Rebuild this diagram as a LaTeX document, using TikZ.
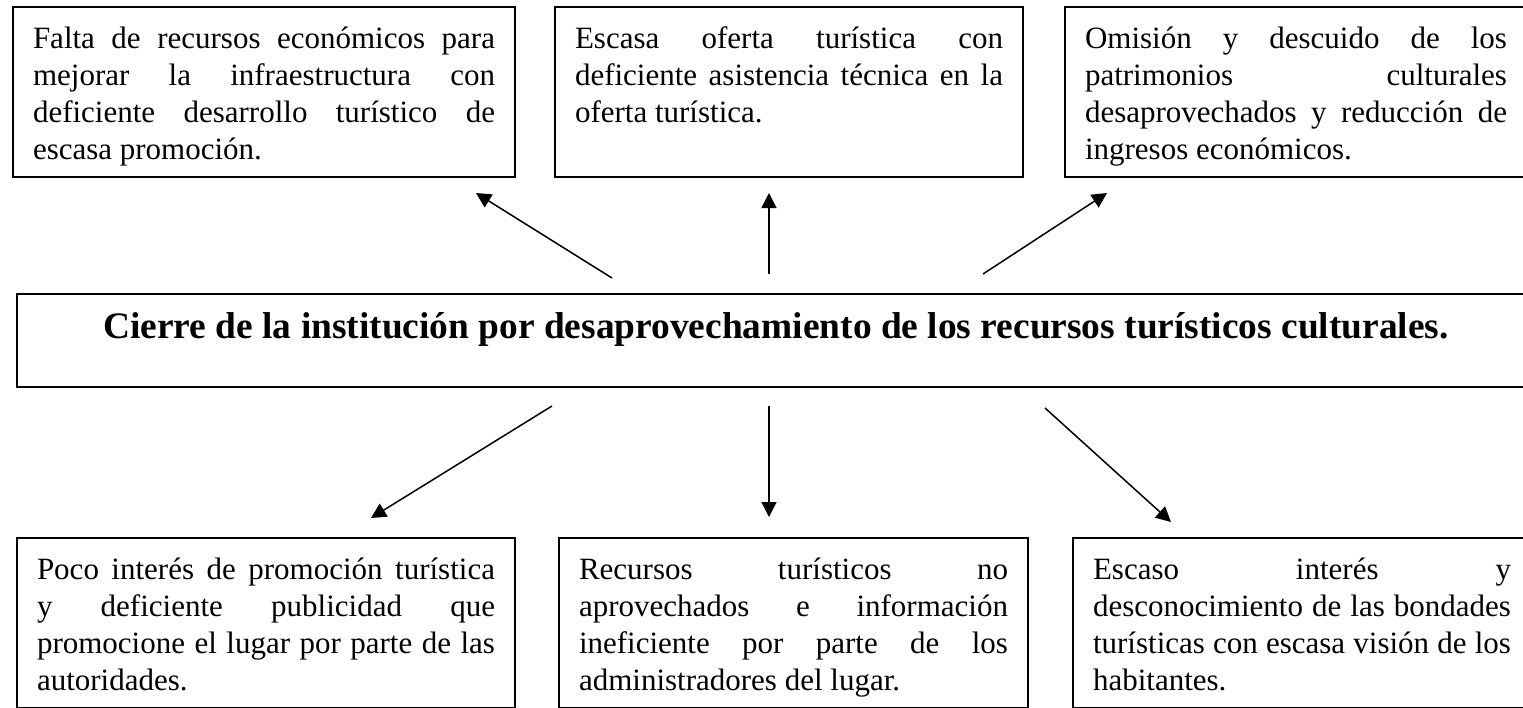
\documentclass[tikz,border=0pt]{standalone}
\usepackage{fontspec}
\setmainfont{Liberation Serif}
\usetikzlibrary{arrows.meta, calc}
\newcommand{\linea}[1]{\makebox[\linewidth][s]{\spaceskip=0pt\xspaceskip=0pt\relax#1}}
\newcommand{\arriba}{\rule{0pt}{41pt}}
\newcommand{\abajo}{\rule[-18pt]{0pt}{0pt}}
\tikzset{
  caja/.style={
    rectangle, draw=black, line width=2pt, outer sep=0pt,
    inner xsep=20pt, inner ysep=0pt, anchor=north west,
    align=justify, font=\fontsize{31}{37}\selectfont
  },
  central/.style={
    rectangle, draw=black, line width=2pt, outer sep=0pt,
    inner sep=0pt, anchor=north west, minimum width=1518pt,
    text height=44pt, text depth=49pt,
    font=\fontsize{37.4}{44}\selectfont\bfseries
  },
  flecha/.style={-{Triangle[length=15pt,width=15pt]}, line width=1.5pt},
}
\begin{document}
\begin{tikzpicture}[x=1pt, y=-1pt]
  \clip (0,0) rectangle (1523,707);

  % efectos
  \node[caja, text width=462pt] (efecto1) at (13,7)
    {\linea{\arriba Falta de recursos económicos para}\\
     \linea{mejorar la infraestructura con}\\
     \linea{deficiente desarrollo turístico de}\\
     escasa promoción.\abajo};
  \node[caja, text width=428pt] (efecto2) at (555,7)
    {\linea{\arriba Escasa oferta turística con}\\
     \linea{deficiente asistencia técnica en la}\\
     oferta turística.\rule[-55pt]{0pt}{0pt}};
  \node[caja, text width=422pt] (efecto3) at (1065,7)
    {\linea{\arriba Omisión y descuido de los}\\
     \linea{patrimonios culturales}\\
     \linea{desaprovechados y reducción de}\\
     ingresos económicos.\abajo};

  % problema central
  \node[central] (problema) at (17,294)
    {Cierre de la institución por desaprovechamiento de los recursos turísticos culturales.};

  % causas
  \node[caja, text width=458pt] (causa1) at (17,538)
    {\linea{\arriba Poco interés de promoción turística}\\
     \linea{y deficiente publicidad que}\\
     \linea{promocione el lugar por parte de las}\\
     autoridades.\abajo};
  \node[caja, text width=429pt] (causa2) at (559,538)
    {\linea{\arriba Recursos turísticos no}\\
     \linea{aprovechados e información}\\
     \linea{ineficiente por parte de los}\\
     administradores del lugar.\abajo};
  \node[caja, text width=418pt] (causa3) at (1073,538)
    {\linea{\arriba Escaso interés y}\\
     \linea{desconocimiento de las bondades}\\
     \linea{turísticas con escasa visión de los}\\
     habitantes.\abajo};

  % flechas
  \draw[flecha] ($(problema.north west)+(595,-16)$) -- ($(efecto1.south west)+(463,16)$);
  \draw[flecha] ($(problema.north west)+(752,-20)$) -- ($(efecto2.south west)+(214,16)$);
  \draw[flecha] ($(problema.north west)+(966,-20)$) -- ($(efecto3.south west)+(42,16)$);
  \draw[flecha] ($(problema.south west)+(535,19)$) -- ($(causa1.north west)+(354,-20)$);
  \draw[flecha] ($(problema.south west)+(752,19)$) -- ($(causa2.north west)+(210,-21)$);
  \draw[flecha] ($(problema.south west)+(1028,21)$) -- ($(causa3.north west)+(98,-16)$);
\end{tikzpicture}
\end{document}
